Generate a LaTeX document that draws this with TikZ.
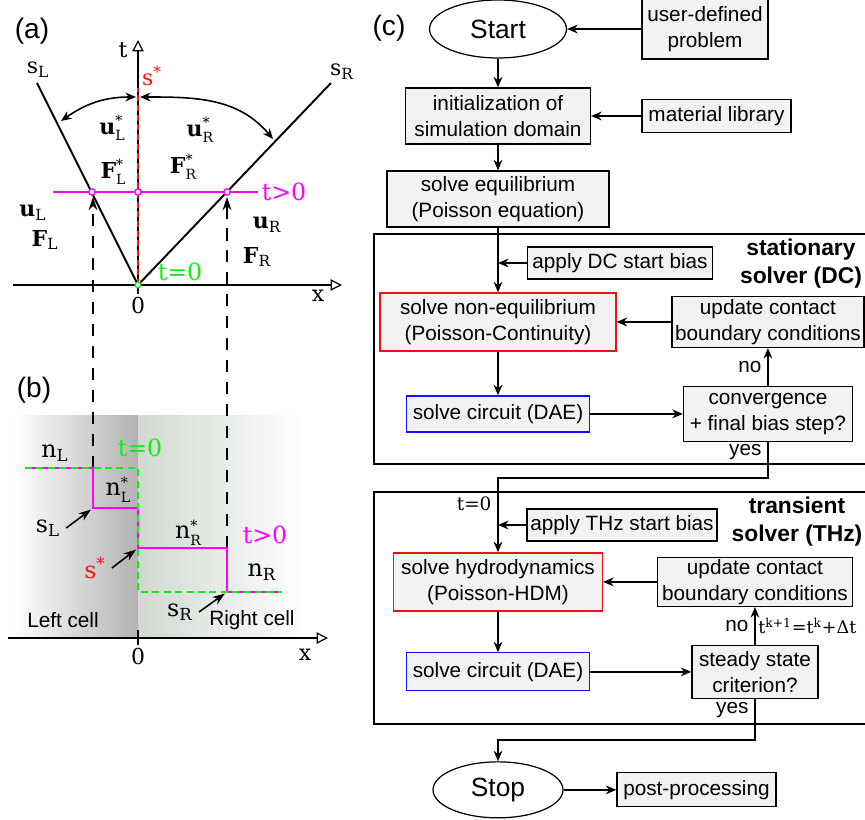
\documentclass[tikz,border=0pt]{standalone}
\usepackage{fontspec}
\setmainfont{Liberation Sans}
\newfontfamily\serfont{DejaVu Serif}
\usepackage{tikz}
\usetikzlibrary{arrows.meta,shapes.geometric}

\definecolor{boxgray}{HTML}{F2F2F2}
\definecolor{cellgray}{HTML}{B2B2B2}
\definecolor{cellgreen}{HTML}{D0D9D0}
\definecolor{tgreen}{HTML}{11EE11}
\definecolor{tmag}{HTML}{FF00FF}
\definecolor{sred}{HTML}{FF1111}
\definecolor{nred}{HTML}{EE1111}
\definecolor{nblue}{HTML}{1111FF}

\newcommand{\vsub}[2]{#1\textsubscript{#2}}
\newcommand{\vstar}[2]{#1\raisebox{-0.3em}{\fontsize{8}{8}\selectfont\mdseries\shortstack[l]{*\\#2}}}

\tikzset{
  box/.style={draw, rectangle, fill=boxgray, line width=0.7pt, align=center, inner sep=0pt},
  term/.style={draw, ellipse, line width=0.7pt, inner sep=0pt, font=\fontsize{15}{18}\selectfont},
  flow/.style={->, line width=0.8pt},
  solver/.style={font=\fontsize{13}{16}\selectfont\bfseries, align=center},
  panel/.style={font=\fontsize{16}{19}\selectfont},
  sym/.style={font=\fontsize{12.5}{15}\serfont},
  symb/.style={font=\fontsize{13.5}{16}\serfont},
  fsym/.style={font=\fontsize{10.5}{13}\serfont},
  axis/.style={-{Triangle[open,length=6.5pt,width=6.5pt]}, line width=0.7pt},
  vline/.style={-{Stealth[length=7.5pt,width=5pt]}, dash pattern=on 7pt off 5.5pt, line width=0.9pt},
  pointer/.style={-{Stealth[length=7pt,width=5pt]}, line width=0.9pt, shorten >=1.5pt},
}

\begin{document}
\begin{tikzpicture}[x=0.02cm, y=-0.02cm, >={Stealth[length=6pt,width=5pt]},
  every node/.style={font=\fontsize{11.8}{15}\selectfont}]
	\useasboundingbox (0,0) rectangle (865,820);
	\clip (0,0) rectangle (865,820);
	
	% (a) characteristics in the x-t plane
	\node[panel](LBLA) at (32,31){(a)};
	\coordinate (O) at (138,285);
	\coordinate (XA0) at (13,285);
	\coordinate (XA1) at (342,285);
	\coordinate (TA1) at (138,40);
	\coordinate (SLT) at (37,83);
	\coordinate (SRT) at (331,83);
	\coordinate (SST) at (138,88);
	\coordinate (ML) at (53,192);
	\coordinate (MR) at (258,192);
	\coordinate (PL) at (92,192);
	\coordinate (PM) at (138,192);
	\coordinate (PR) at (227,192);
	
	\draw[axis] (XA0) -- (XA1);
	\draw[axis] (O) -- (TA1);
	\draw[line width=0.6pt] (O) -- ++(0,9);
	\node[sym](TLBL) at (123,50){t};
	\node[sym](XLBL) at (318,296){x};
	\node[sym](ZLBL) at (138,306){0};
	
	\draw[line width=1.1pt] (SLT) -- (O) -- (SRT);
	\draw[sred, line width=1.4pt, dash pattern=on 3.5pt off 2pt] (O) -- (SST);
	\draw[tmag, line width=1.1pt] (ML) -- (MR);
	\foreach \p in {PL,PM,PR}
		\draw[tmag, fill=white, line width=0.8pt] (\p) circle (1.8pt);
	\draw[tgreen, fill=white, line width=0.8pt] (O) circle (1.6pt);
	
	\coordinate (CA) at (136,97);
	\coordinate (CL) at (61,121);
	\coordinate (CB) at (140,97);
	\coordinate (CR) at (273,139);
	\draw[<->, line width=0.9pt] (CA) to[out=180, in=35] (CL);
	\draw[<->, line width=0.9pt] (CB) to[out=0, in=130] (CR);
	
	\node[sym](SLA) at (38,70){\vsub{s}{L}};
	\node[sym, text=sred](SSA) at (152,76){s\textsuperscript{*}};
	\node[sym](SRA) at (342,72){\vsub{s}{R}};
	\node[sym](USL) at (112,128){\vstar{\textbf{u}}{L}};
	\node[sym](FSL) at (113,172){\vstar{\textbf{F}}{L}};
	\node[sym](USR) at (200,130){\vstar{\textbf{u}}{R}};
	\node[sym](FSR) at (183,167){\vstar{\textbf{F}}{R}};
	\node[sym](UL) at (33,213){\vsub{\textbf{u}}{L}};
	\node[sym](FL) at (45,240){\vsub{\textbf{F}}{L}};
	\node[sym](UR) at (267,225){\vsub{\textbf{u}}{R}};
	\node[sym](FR) at (257,257){\vsub{\textbf{F}}{R}};
	\node[symb, text=tgreen](T0A) at (180,272){t=0};
	\node[symb, text=tmag](TPA) at (284,192){t>0};
	
	% (b) Riemann problem between two cells
	\node[panel](LBLB) at (34,390){(b)};
	\shade[left color=white, right color=cellgray] (13,416) rectangle (138,636);
	\shade[left color=cellgreen, right color=white] (138,416) rectangle (305,636);
	\coordinate (XB0) at (8,638);
	\coordinate (XB1) at (328,638);
	\coordinate (OB) at (138,638);
	\draw[axis] (XB0) -- (XB1);
	\draw[line width=0.6pt] (OB) ++(0,-8) -- ++(0,15);
	\node[sym](ZLBLB) at (138,657){0};
	\node[sym](XLBLB) at (305,655){x};
	
	\coordinate (NA) at (25,468);
	\coordinate (NB) at (93,468);
	\coordinate (NC) at (93,508);
	\coordinate (ND) at (138,508);
	\coordinate (NE) at (138,548);
	\coordinate (NF) at (227,548);
	\coordinate (NG) at (227,592);
	\coordinate (NH) at (282,592);
	\coordinate (NI) at (138,468);
	\coordinate (NJ) at (138,592);
	\coordinate (DL1) at (93,197);
	\coordinate (DR1) at (227,197);
	
	\draw[vline] (NB) -- (DL1);
	\draw[vline] (NF) -- (DR1);
	\draw[tmag, line width=1.1pt] (NA) -- (NB) -- (NC) -- (ND) -- (NE) -- (NF) -- (NG) -- (NH);
	\draw[tgreen, line width=1.4pt, dash pattern=on 4pt off 2.5pt] (NA) -- (NI) -- (NJ) -- (NH);
	
	\node[symb](NLB) at (55,453){\vsub{n}{L}};
	\node[symb, text=tgreen](T0B) at (140,448){t=0};
	\node[symb](NSL) at (118,490){\vstar{n}{L}};
	\node[symb](SLB) at (48,528){\vsub{s}{L}};
	\node[symb](NSR) at (188,533){\vstar{n}{R}};
	\node[symb, text=tmag](TPB) at (265,535){t>0};
	\node[symb, text=sred](SSB) at (95,568){s\textsuperscript{*}};
	\node[symb](NRB) at (262,572){\vsub{n}{R}};
	\node[symb](SRB) at (180,612){\vsub{s}{R}};
	\node(LCELL) at (63,620){Left cell};
	\node(RCELL) at (252,620){Right cell};
	
	\draw[pointer] (SLB.east) -- (NC);
	\draw[pointer] (SSB.east) -- (NE);
	\draw[pointer] (SRB.east) -- (NG);
	
	% (c) flow chart of the solver
	\node[panel](LBLC) at (389,28){(c)};
	\node[term, minimum width=2.74cm, minimum height=1.16cm](START) at (498,29){Start};
	\node[box, right of=START, node distance=4.14cm, minimum width=2.52cm, minimum height=1.2cm](USER){user-defined\\problem};
	\node[box, below of=START, node distance=1.74cm, minimum width=3.7cm, minimum height=1.12cm](INIT){initialization of\\simulation domain};
	\node[box, right of=INIT, node distance=4.37cm, minimum width=2.98cm, minimum height=0.66cm](LIB){material library};
	\node[box, below of=INIT, node distance=1.66cm, minimum width=4.44cm, minimum height=1.12cm](EQ){solve equilibrium\\(Poisson equation)};
	
	\path (USER) edge[flow] (START);
	\draw[flow] (START) -- (INIT);
	\draw[flow] (LIB) -- (INIT);
	\draw[flow] (INIT) -- (EQ);
	
	\draw[line width=0.7pt] (374,234) rectangle (880,464);
	\node[solver](DCTTL) at (801,264){stationary\\solver (DC)};
	\node[box, minimum width=3.7cm, minimum height=0.64cm](DCBIAS) at (620,263){apply DC start bias};
	\node[box, draw=nred, below of=EQ, node distance=2.46cm, minimum width=4.72cm, minimum height=1.16cm](NEQ){solve non-equilibrium\\(Poisson-Continuity)};
	\node[box, right of=NEQ, node distance=5.4cm, minimum width=3.84cm, minimum height=1.02cm](UPD1){update contact\\boundary conditions};
	\node[box, draw=nblue, below of=NEQ, node distance=1.84cm, minimum width=3.66cm, minimum height=0.72cm](CIRC1){solve circuit (DAE)};
	\node[box, right of=CIRC1, node distance=5.4cm, minimum width=3.38cm, minimum height=1.1cm](CONV){convergence\\+ final bias step?};
	\coordinate (BEND1) at (498,478);
	
	\draw[flow] (EQ) -- (NEQ);
	\draw[flow] (DCBIAS.west) -- (DCBIAS.west -| NEQ.north);
	\draw[flow] (UPD1.west) -- (UPD1.west -| NEQ.east);
	\draw[flow] (NEQ) -- (CIRC1);
	\draw[flow] (CIRC1.east) -- (CIRC1.east -| CONV.west);
	\draw[flow] (CONV.north) -- (UPD1.south) node[midway, left]{no};
	
	\draw[line width=0.7pt] (374,492) rectangle (880,724);
	\node[solver](THZTTL) at (797,522){transient\\solver (THz)};
	\node[box, minimum width=3.8cm, minimum height=0.64cm](THZBIAS) at (622,525){apply THz start bias};
	\node[box, draw=nred, below of=CIRC1, node distance=3.36cm, minimum width=4.18cm, minimum height=1.16cm](HDM){solve hydrodynamics\\(Poisson-HDM)};
	\node[box, right of=HDM, node distance=5.14cm, minimum width=3.9cm, minimum height=0.98cm](UPD2){update contact\\boundary conditions};
	\node[box, draw=nblue, below of=HDM, node distance=1.8cm, minimum width=3.66cm, minimum height=0.76cm](CIRC2){solve circuit (DAE)};
	\node[box, right of=CIRC2, node distance=5.14cm, minimum width=2.52cm, minimum height=1.06cm](STEADY){steady state\\criterion?};
	\coordinate (BEND2) at (498,740);
	
	\draw[flow] (CONV.south) |- (BEND1) node[pos=0.14, left]{yes} -- (HDM.north) node[pos=0.35, left, fsym]{t=0};
	\draw[flow] (THZBIAS.west) -- (THZBIAS.west -| HDM.north);
	\draw[flow] (UPD2.west) -- (UPD2.west -| HDM.east);
	\draw[flow] (HDM) -- (CIRC2);
	\draw[flow] (CIRC2.east) -- (CIRC2.east -| STEADY.west);
	\draw[flow] (STEADY.north) -- (UPD2.south) node[midway, left]{no}
		node[midway, right, inner sep=1.5pt, font=\fontsize{10}{12}\serfont]{t\textsuperscript{k+1}=t\textsuperscript{k}+Δt};
	
	\node[term, below of=CIRC2, node distance=2.36cm, minimum width=2.6cm, minimum height=1.12cm](STOP){Stop};
	\node[box, right of=STOP, node distance=3.97cm, minimum width=3.18cm, minimum height=0.68cm](POST){post-processing};
	
	\draw[flow] (STEADY.south) |- (BEND2) node[pos=0.13, left]{yes} -- (STOP.north);
	\draw[flow] (STOP) -- (POST);
\end{tikzpicture}
\end{document}
